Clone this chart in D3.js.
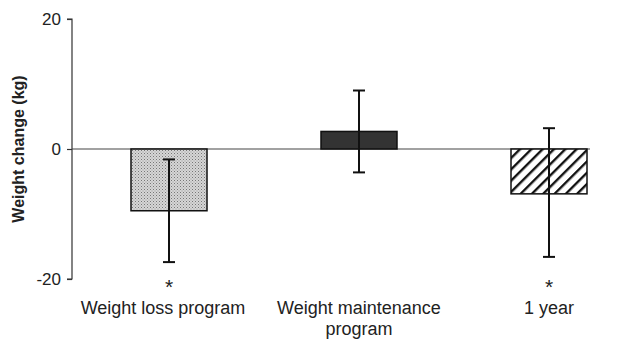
<!DOCTYPE html>
<html>
<head>
<meta charset="utf-8">
<script src="https://cdn.jsdelivr.net/npm/d3@7"></script>
<style>
  html, body { margin: 0; padding: 0; background: #fff; }
  svg { display: block; font-family: "Liberation Sans", Arial, sans-serif; }
</style>
</head>
<body>
<svg id="chart" width="641" height="345"></svg>
<script>
// Mean weight change (kg) with error bar limits, per study phase
const categories = ["Weight loss program", "Weight maintenance program", "1 year"];
const labelLines = [["Weight loss program"], ["Weight maintenance", "program"], ["1 year"]];
const means = [-9.5, 2.7, -6.9];
const errLow = [-17.4, -3.6, -16.6];
const errHigh = [-1.6, 9.0, 3.2];
const significant = [true, false, true];
const yTicks = [-20, 0, 20];

const svg = d3.select("#chart");
const defs = svg.append("defs");

// Fine stipple fill
const dots = defs.append("pattern").attr("id", "stipple")
  .attr("patternUnits", "userSpaceOnUse").attr("width", 3).attr("height", 3);
dots.append("rect").attr("width", 3).attr("height", 3).attr("fill", "#d6d6d6");
dots.append("rect").attr("width", 1).attr("height", 1).attr("fill", "#777");
dots.append("rect").attr("x", 1.5).attr("y", 1.5).attr("width", 1).attr("height", 1).attr("fill", "#999");

// Diagonal hatching
const hatch = defs.append("pattern").attr("id", "hatch")
  .attr("patternUnits", "userSpaceOnUse").attr("width", 8).attr("height", 8)
  .attr("patternTransform", "rotate(45)");
hatch.append("rect").attr("width", 8).attr("height", 8).attr("fill", "#fff");
hatch.append("rect").attr("x", 0).attr("width", 2.4).attr("height", 8).attr("fill", "#111");

const fills = ["url(#stipple)", "#333333", "url(#hatch)"];

const x = d3.scaleBand().domain(categories).range([74, 644])
  .paddingInner(0.6).paddingOuter(0.3);
const y = d3.scaleLinear().domain([-20, 20]).range([279, 19]);

// Y axis
const yAxis = d3.axisLeft(y).tickValues(yTicks).tickSize(5).tickPadding(6)
  .tickFormat(d => String(d));
const ga = svg.append("g").attr("transform", "translate(72,0)").call(yAxis);
ga.select(".domain").attr("stroke", "#333").attr("stroke-width", 1.2)
  .attr("d", `M-5,${y(20)}H0V${y(-20)}H-5`);
ga.selectAll(".tick line").attr("stroke", "#333").attr("stroke-width", 1.2);
ga.selectAll(".tick text").attr("font-size", 17).attr("fill", "#222")
  .attr("font-family", "Liberation Sans, Arial, sans-serif");

// Zero line
svg.append("line").attr("x1", 72).attr("x2", 590)
  .attr("y1", y(0)).attr("y2", y(0)).attr("stroke", "#444").attr("stroke-width", 1.2);

// Bars
svg.selectAll("rect.bar").data(categories).join("rect").attr("class", "bar")
  .attr("x", d => x(d))
  .attr("width", x.bandwidth())
  .attr("y", (d, i) => y(Math.max(0, means[i])))
  .attr("height", (d, i) => Math.abs(y(means[i]) - y(0)))
  .attr("fill", (d, i) => fills[i])
  .attr("stroke", "#111").attr("stroke-width", 1.5);

// Error bars
const cx = d => x(d) + x.bandwidth() / 2;
const eb = svg.selectAll("g.err").data(categories).join("g").attr("class", "err")
  .attr("stroke", "#111").attr("stroke-width", 2);
eb.append("line").attr("x1", cx).attr("x2", cx)
  .attr("y1", (d, i) => y(errHigh[i])).attr("y2", (d, i) => y(errLow[i]));
eb.append("line").attr("x1", d => cx(d) - 6).attr("x2", d => cx(d) + 6)
  .attr("y1", (d, i) => y(errHigh[i])).attr("y2", (d, i) => y(errHigh[i]));
eb.append("line").attr("x1", d => cx(d) - 6).attr("x2", d => cx(d) + 6)
  .attr("y1", (d, i) => y(errLow[i])).attr("y2", (d, i) => y(errLow[i]));

// Significance markers
svg.selectAll("text.sig").data(categories.filter((d, i) => significant[i]))
  .join("text").attr("class", "sig")
  .attr("x", cx).attr("y", 294).attr("text-anchor", "middle")
  .attr("font-size", 21).attr("fill", "#222").text("*");

// Category labels (the first one sits slightly left of its bar)
const lab = svg.selectAll("text.cat").data(categories).join("text").attr("class", "cat")
  .attr("text-anchor", "middle").attr("font-size", 18).attr("fill", "#222");
lab.each(function(d, i) {
  const shift = i === 0 ? -6 : 0;
  d3.select(this).selectAll("tspan").data(labelLines[i]).join("tspan")
    .attr("x", cx(d) + shift).attr("y", (t, j) => 314 + j * 21).text(t => t);
});

// Y axis title
svg.append("text")
  .attr("transform", `translate(24,${y(0)}) rotate(-90)`)
  .attr("text-anchor", "middle").attr("font-size", 16).attr("font-weight", "bold")
  .attr("fill", "#222").text("Weight change (kg)");
</script>
</body>
</html>
